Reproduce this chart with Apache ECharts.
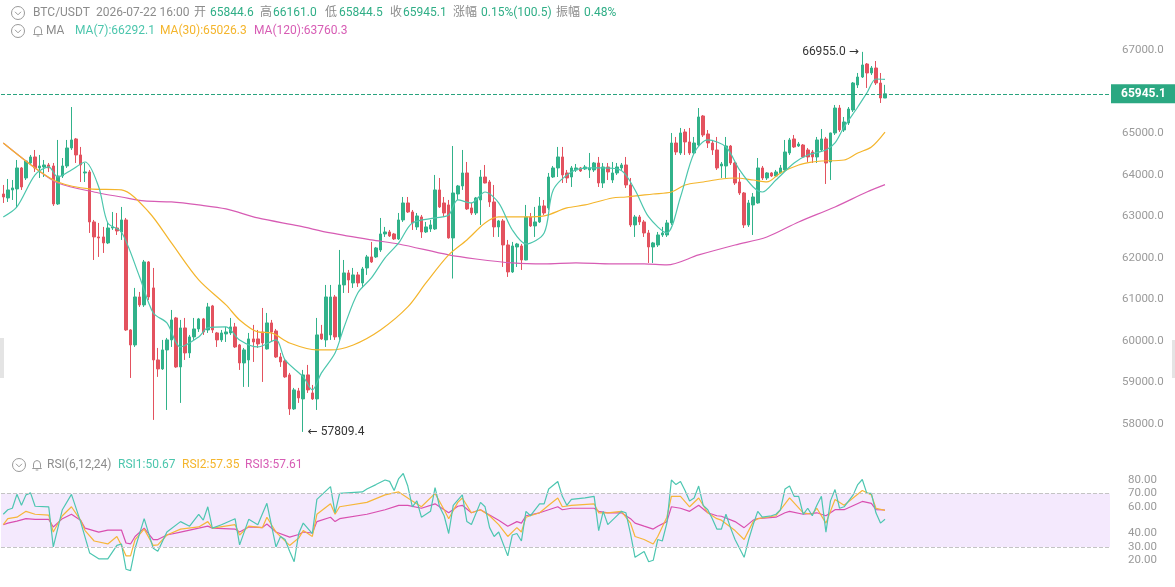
<!DOCTYPE html>
<html>
<head>
<meta charset="utf-8">
<script src="https://cdn.jsdelivr.net/npm/echarts@6/dist/echarts.min.js"></script>
<style>
html,body{margin:0;padding:0;background:#fff;}
#main{width:1175px;height:587px;}
</style>
</head>
<body>
<div id="main"></div>
<script>
// K线 [开, 收, 低, 高]
var kline = [
[63535,63463,63319,63752],[63439,63632,63343,63896],[63632,63680,63391,63872],[63656,64161,63199,64353],
[64161,63704,63632,64185],[63920,64329,63872,64353],[64281,64426,64233,64474],[64426,64161,64065,64594],
[64161,64209,63920,64474],[64185,64233,63944,64353],[64233,64161,64065,64281],[64209,63295,63247,64281],
[63295,63968,63270,64835],[63968,64209,63920,64401],[64209,64642,64161,64835],[64642,64835,64594,65628],
[64859,64474,64281,64883],[64474,64233,63824,64667],[64041,64065,63824,64281],[64065,62862,62597,64113],
[62862,62501,61947,62910],[62501,62477,62020,62838],[62501,62357,62116,62742],[62357,62717,62330,62838],
[62717,62742,62669,63102],[62717,62645,62549,63078],[62621,62910,62429,63223],[62910,60263,60240,62958],
[60263,59902,59108,60280],[59902,61057,59854,61274],[61057,60865,60817,61177],[60865,61899,60817,61947],
[61899,61057,60985,61920],[61274,59541,58098,61755],[59541,59325,59133,59830],[59325,59782,59301,60023],
[59782,60023,58338,60071],[60023,60504,59854,60744],[60552,59373,59350,60576],[59373,60311,58507,60504],
[60311,59710,59541,60552],[59710,60095,59589,60143],[60095,60287,60023,60552],[60287,60528,60215,60552],
[60528,60215,60143,60552],[60263,60817,60191,60913],[60841,60263,60191,60865],[60191,60023,59854,60215],
[60023,60191,59974,60263],[60167,60215,59974,60336],[60191,60336,60143,60552],[60336,59854,59830,60432],
[59902,59469,59301,59926],[59469,59782,58892,59830],[59541,60047,58892,60191],[60047,59974,59493,60384],
[60047,59926,59830,60263],[60215,59950,59012,60792],[59806,60432,59790,60672],[60432,60215,59974,60504],
[60239,59613,59589,60287],[59613,59493,59373,59710],[59517,59133,59110,59565],[59181,58363,58218,59229],
[58363,58820,58338,58868],[58796,58627,58507,58868],[58603,59181,57809.4,59301],[59181,58820,58747,59421],
[58747,58603,58579,58940],[58603,60143,58338,60552],[60167,60047,60023,60384],[60023,61057,59854,61346],
[60143,61057,60023,61346],[61057,60095,60023,61105],[60095,61346,60023,62188],[61346,61635,61153,61947],
[61635,61466,61153,61707],[61394,61587,61274,61755],[61587,61394,61298,61659],[61394,61731,61274,61779],
[61755,62020,61587,62068],[62020,61899,61875,62381],[62020,62236,61996,62260],[62188,62573,62140,62958],
[62573,62621,62501,62742],[62621,62525,62501,62669],[62573,62453,62429,62597],[62453,62910,62429,63078],
[62910,63319,62862,63463],[63319,63102,63078,63463],[63102,62838,62669,63150],[62742,63006,62669,63078],
[62982,62621,62477,63030],[62621,62742,62597,62862],[62693,62790,62621,62910],[62693,63632,62669,63993],
[63632,63223,63199,63920],[63319,63078,62982,63463],[63271,62477,62460,63391],[62477,63559,61500,64690],
[63535,63728,63391,63752],[63728,64041,63632,64594],[64041,63175,63150,64305],[63199,63078,63030,63319],
[63078,63439,63030,63463],[63391,63944,62790,64113],[63944,63800,63790,64233],[63824,63343,63223,63872],
[63343,62742,62501,63752],[62742,62886,62501,62910],[62886,62308,61779,62934],[62308,61659,61539,62429],
[61659,62284,61635,62381],[62260,62332,61779,62357],[62284,61947,61707,62332],[61947,62982,61940,63271],
[62982,62766,62742,63078],[62766,62862,62501,63223],[62862,63247,62838,63463],[63247,63078,63030,63391],
[63199,63944,63150,64041],[63944,64161,63920,64209],[64161,64426,63944,64667],[64426,63993,63800,64667],
[64041,63920,63800,64113],[63944,64161,63704,64209],[64113,64161,64065,64257],[64161,64089,64065,64185],
[64137,64185,64113,64233],[64113,64161,63920,64522],[64113,64281,64065,64305],[64281,63800,63704,64426],
[63800,64185,63680,64281],[64185,64065,63872,64281],[63872,64041,63800,64305],[64041,64185,63993,64281],
[64161,64233,64113,64281],[64233,63752,63680,64426],[63752,62790,62742,63920],[62790,62982,62501,63030],
[62982,62862,62790,63030],[62862,62597,62501,62910],[62597,62260,61875,62669],[62260,62357,61875,62381],
[62308,62549,62260,62621],[62549,62597,62501,62742],[62549,62838,62501,62910],[62838,64762,62790,65003],
[64762,64546,64474,64907],[64522,65003,64474,65124],[65027,64787,64474,65099],[64787,64522,64474,65124],
[64522,64762,64474,64907],[64714,65388,64666,65604],[65412,64955,64907,65436],[64979,64762,64642,65075],
[64762,64594,64474,64835],[64594,64161,64113,64907],[64209,64257,63920,64305],[64209,64690,63920,64907],
[64690,64281,64233,64714],[64281,63800,63752,64305],[63824,63559,63511,64041],[63559,62790,62717,63583],
[62790,63319,62742,63391],[63271,63463,62549,63559],[63319,64161,63300,64401],[64161,63920,63872,64209],
[63920,64041,63872,64060],[64041,63968,63944,64060],[63968,64065,63944,64113],[64041,64161,64030,64233],
[64113,64546,64065,64835],[64522,64835,64474,64883],[64859,64666,64642,64955],[64690,64738,64666,64787],
[64714,64426,64401,64738],[64594,64426,64305,64642],[64546,64426,64281,64594],[64426,64835,64281,64907],
[64594,64859,64546,65099],[64859,64281,63776,64907],[64305,65003,63872,65010],[65003,65604,64955,65677],
[65604,65075,65027,65677],[65075,65268,65027,65388],[65244,65580,65196,65628],[65556,66206,65508,66230],
[66158,66350,66086,66447],[66350,66639,66326,66955],[66663,66447,66086,66687],[66447,66567,66399,66615],
[66567,66206,66158,66735],[66206,65845,65725,66447],[65844.6,65945.1,65844.5,66161.0]
];

// 均线 [K线序号, 值]
var ma7Pts = [[0,62982],[3,63223],[7,63993],[10,64185],[12,63944],[15,64113],[18,64305],[21,63704],[23,62838],
[26,62621],[30,61539],[33,60672],[36,60432],[39,59854],[43,60095],[45,60311],[49,60336],[52,60023],[56,59854],
[60,60023],[62,59541],[66,59133],[68,58820],[70,59229],[73,59710],[75,60336],[78,61153],[81,61514],[84,61996],
[87,62357],[90,62838],[95,62958],[98,63030],[100,63391],[103,63319],[106,63583],[109,63319],[112,62669],
[115,62332],[119,62597],[121,63632],[125,64065],[129,64161],[132,64161],[136,64100],[139,63632],[142,62982],
[146,62597],[149,63463],[152,64522],[155,64835],[159,64666],[162,64113],[165,63704],[167,63583],[170,63872],
[174,64281],[177,64474],[181,64594],[183,64762],[185,65147],[188,65628],[190,65965],[192,66302],[194,66292.1]];
var ma30Pts = [[0,64762],[7,64161],[12,63824],[19,63656],[26,63632],[32,63102],[37,62357],[43,61466],[49,60865],
[52,60504],[56,60215],[59,60191],[63,59950],[69,59782],[72,59782],[77,59902],[83,60263],[89,60817],[93,61394],
[98,62068],[102,62429],[106,62838],[109,62982],[115,62982],[119,63006],[124,63199],[128,63271],[134,63439],
[137,63463],[143,63535],[147,63583],[150,63752],[154,63824],[158,63896],[161,63920],[165,63872],[168,63824],
[171,64041],[175,64233],[178,64305],[180,64329],[185,64353],[188,64522],[191,64666],[194,65026.3]];
var ma120Pts = [[0,64762],[7,64161],[12,63800],[21,63559],[26,63463],[31,63367],[37,63343],[43,63271],[49,63175],
[56,62958],[65,62766],[72,62597],[81,62429],[87,62332],[98,62068],[104,61971],[112,61875],[119,61851],
[126,61875],[134,61851],[141,61851],[146,61827],[153,62068],[161,62308],[168,62501],[175,62862],[183,63223],
[190,63583],[194,63760.3]];

// RSI [K线序号, 值]
var rsi1Pts = [[0,54.4],[1,57.8],[2,58.9],[3,69.3],[4,61.1],[5,68.9],[6,70.4],[7,60.4],[10,60.0],[11,30.0],[13,57.8],
[15,69.3],[17,48.9],[19,25.5],[21,21.1],[23,21.1],[25,31.1],[26,32.2],[27,13.3],[28,12.2],[29,28.9],[31,51.1],
[33,28.9],[34,26.7],[36,41.1],[39,48.9],[41,45.5],[43,54.4],[44,50.0],[45,60.0],[46,44.0],[48,46.6],[51,51.1],
[52,31.5],[54,50.6],[56,46.6],[58,62.6],[60,30.0],[61,37.8],[62,35.5],[63,26.7],[64,18.9],[65,40.0],[66,47.8],
[68,40.0],[69,65.5],[72,75.1],[73,55.5],[74,70.0],[79,71.1],[80,73.3],[82,76.6],[84,80.0],[85,79.0],[86,72.2],
[87,81.1],[88,84.9],[89,75.5],[90,60.0],[91,64.4],[92,52.2],[94,56.6],[95,74.4],[96,60.0],[97,53.3],[98,40.0],
[99,61.1],[101,68.9],[102,48.9],[103,46.7],[105,63.3],[106,60.0],[107,44.4],[108,37.8],[109,41.1],[111,23.3],
[112,38.9],[113,40.0],[114,34.4],[115,56.6],[116,53.3],[118,62.2],[119,62.2],[120,73.3],[122,78.9],[123,67.8],
[124,61.1],[125,65.5],[128,66.6],[130,67.8],[131,42.2],[132,56.6],[133,46.7],[136,56.6],[137,55.5],[138,40.0],
[139,22.2],[141,26.6],[142,18.9],[143,20.0],[144,35.5],[145,34.4],[146,47.8],[147,80.0],[148,76.6],[149,78.9],
[150,72.2],[151,64.4],[152,66.6],[153,75.5],[154,61.1],[155,57.8],[156,51.1],[157,43.3],[158,43.3],[159,54.4],
[160,44.4],[161,35.5],[163,22.2],[164,35.5],[165,46.7],[166,56.6],[167,52.2],[169,53.3],[170,54.4],[171,57.8],
[172,73.3],[173,75.5],[174,67.8],[175,67.8],[176,54.4],[177,58.9],[178,53.3],[179,61.1],[180,67.8],[181,41.1],
[182,64.4],[183,72.9],[184,58.9],[185,60.0],[187,68.9],[188,76.6],[189,80.4],[190,70.0],[191,70.0],[192,55.5],
[193,47.8],[194,50.67]];
var rsi2Pts = [[0,46.6],[1,51.1],[3,52.2],[5,56.6],[7,54.4],[10,53.8],[11,41.1],[13,53.3],[15,60.0],[17,50.0],
[18,42.2],[20,34.4],[23,32.2],[25,37.8],[26,31.1],[27,23.3],[28,23.3],[29,35.5],[31,43.3],[33,31.1],[34,31.5],
[36,38.9],[39,43.3],[43,44.9],[45,48.9],[46,44.0],[51,46.6],[52,38.9],[54,45.5],[57,44.4],[58,52.2],[60,41.1],
[63,31.1],[65,36.6],[66,42.2],[68,37.8],[69,54.4],[72,62.2],[73,54.4],[74,60.0],[80,63.3],[84,68.9],[87,71.1],
[89,66.6],[90,64.4],[92,60.0],[95,70.0],[97,57.8],[98,51.1],[100,63.3],[101,66.6],[103,55.5],[105,57.8],
[107,53.3],[109,46.7],[111,37.8],[113,44.4],[114,41.1],[115,52.2],[118,55.5],[120,61.1],[122,66.6],[123,60.0],
[125,61.1],[130,62.2],[131,55.5],[133,55.5],[136,56.6],[138,47.8],[139,37.8],[141,35.5],[143,32.2],[144,37.8],
[146,52.2],[147,67.8],[149,67.8],[151,60.0],[153,66.6],[155,55.5],[157,51.1],[158,50.0],[161,42.2],[163,35.5],
[165,48.9],[166,51.1],[170,53.3],[172,62.2],[173,66.6],[176,55.5],[178,54.4],[179,58.9],[181,47.8],[183,65.5],
[185,61.1],[189,72.2],[191,68.9],[192,58.9],[194,57.35]];
var rsi3Pts = [[0,46.6],[1,47.8],[3,49.3],[5,51.1],[7,50.6],[10,50.6],[11,44.9],[13,51.1],[15,54.4],[17,50.0],
[18,44.0],[21,41.1],[23,42.6],[26,42.6],[27,32.9],[28,32.2],[29,37.8],[31,44.0],[33,35.5],[34,35.5],[36,38.9],
[39,41.1],[43,44.0],[45,45.5],[46,44.0],[51,43.3],[52,41.1],[54,44.9],[57,44.4],[58,47.1],[60,41.1],[63,37.3],
[65,39.3],[66,41.1],[68,40.4],[69,48.9],[72,52.2],[73,48.9],[74,51.1],[80,54.4],[84,57.8],[87,61.1],[89,61.1],
[92,58.9],[95,62.2],[97,57.8],[98,55.5],[100,60.4],[101,61.1],[103,55.5],[105,57.8],[107,53.8],[109,50.0],
[111,45.5],[113,48.9],[114,47.8],[115,53.3],[118,55.5],[120,57.8],[122,60.0],[123,57.8],[125,58.9],[130,58.9],
[131,56.6],[133,55.5],[136,55.5],[138,51.1],[139,47.8],[141,45.5],[143,43.3],[144,45.5],[146,48.9],[147,60.0],
[149,58.9],[151,56.6],[153,61.1],[155,55.5],[157,53.3],[158,52.9],[161,48.9],[163,44.4],[165,50.0],[166,51.1],
[170,52.2],[172,55.5],[173,56.6],[176,54.4],[178,55.1],[179,55.5],[181,53.3],[183,57.8],[185,57.8],[189,64.0],
[191,62.6],[192,57.8],[194,57.61]];

var rsiTicks = [20, 30, 40, 60, 70, 80];
var lastClose = 65945.1;
var highMark = [189, 66955.0];
var lowMark = [66, 57809.4];

// 右侧留白(未来K线位置)
var slots = [];
for (var i = 0; i < kline.length + 49; i++) slots.push(String(i));

var upColor = '#31b28a', downColor = '#e3525f';
var gray = '#8c8c8c', valGreen = '#2fae86';
var c7 = '#4cc6ad', c30 = '#f4b52c', c120 = '#d75cb4';

function txt(x, y, s, color) {
    return {
        type: 'text', x: x, y: y,
        style: { text: s, fill: color, fontSize: 12, fontFamily: 'Roboto, "Noto Sans CJK SC"', textVerticalAlign: 'middle' }
    };
}
function chevron(cx, cy) {
    return [
        { type: 'circle', shape: { cx: cx, cy: cy, r: 6.5 }, style: { fill: 'none', stroke: '#9a9a9a', lineWidth: 1 } },
        { type: 'polyline', shape: { points: [[cx - 3, cy - 1.2], [cx, cy + 1.8], [cx + 3, cy - 1.2]] }, style: { fill: 'none', stroke: '#9a9a9a', lineWidth: 1 } }
    ];
}
// 铃铛图标
function bell(cx, cy) {
    return [
        { type: 'polyline', shape: { points: [[cx - 4.5, cy + 3.5], [cx - 3.5, cy + 2.5], [cx - 3.5, cy - 1], [cx - 2.5, cy - 3.5], [cx, cy - 4.5], [cx + 2.5, cy - 3.5], [cx + 3.5, cy - 1], [cx + 3.5, cy + 2.5], [cx + 4.5, cy + 3.5], [cx - 4.5, cy + 3.5]] }, style: { fill: 'none', stroke: '#9a9a9a', lineWidth: 1 } },
        { type: 'line', shape: { x1: cx - 1.3, y1: cy + 5, x2: cx + 1.3, y2: cy + 5 }, style: { stroke: '#9a9a9a', lineWidth: 1 } }
    ];
}

var graphics = [].concat(
    chevron(18, 13), chevron(18, 31), chevron(19, 465),
    bell(38, 31), bell(37, 465),
    [txt(33, 13, 'BTC/USDT', gray), txt(96, 13, '2026-07-22 16:00', gray),
    txt(194, 13, '开', gray), txt(210, 13, '65844.6', valGreen),
    txt(260, 13, '高', gray), txt(273, 13, '66161.0', valGreen),
    txt(325, 13, '低', gray), txt(339, 13, '65844.5', valGreen),
    txt(390, 13, '收', gray), txt(403, 13, '65945.1', valGreen),
    txt(453, 13, '涨幅', gray), txt(481, 13, '0.15%(100.5)', valGreen),
    txt(556, 13, '振幅', gray), txt(584, 13, '0.48%', valGreen),
    txt(46, 31, 'MA', gray), txt(75, 31, 'MA(7):66292.1', c7),
    txt(160, 31, 'MA(30):65026.3', c30), txt(254, 31, 'MA(120):63760.3', c120),
    txt(47, 465, 'RSI(6,12,24)', gray), txt(118, 465, 'RSI1:50.67', c7),
    txt(182, 465, 'RSI2:57.35', c30), txt(245, 465, 'RSI3:57.61', c120),
    { type: 'rect', shape: { x: 0, y: 338, width: 4, height: 40 }, style: { fill: '#e4e4e4' } },
    { type: 'rect', shape: { x: 1172, y: 340, width: 3, height: 38 }, style: { fill: '#e4e4e4' } }]
);

var hiddenAxis = { show: true, axisLine: { show: false }, axisTick: { show: false }, axisLabel: { show: false }, splitLine: { show: false } };

var myChart = echarts.init(document.getElementById('main'));
var option = {
    animation: false,
    backgroundColor: '#fff',
    graphic: graphics,
    grid: [
        { left: 1, right: 65, top: 8.44, height: 457.1 },
        { left: 1, right: 65, top: 453.3, height: 150 }
    ],
    xAxis: [
        Object.assign({ type: 'category', gridIndex: 0, data: slots, boundaryGap: true }, hiddenAxis),
        Object.assign({ type: 'category', gridIndex: 1, data: slots, boundaryGap: true }, hiddenAxis)
    ],
    yAxis: [{
        type: 'value', gridIndex: 0, position: 'right', min: 57000, max: 68000, interval: 1000,
        axisLine: { show: false }, axisTick: { show: false }, splitLine: { show: false },
        axisLabel: {
            margin: 12, color: '#9a9a9a', fontSize: 11.5, fontFamily: 'Roboto',
            formatter: function (v) { return (v >= 58000 && v <= 67000) ? v.toFixed(1) : ''; }
        }
    }, {
        type: 'value', gridIndex: 1, position: 'right', min: 0, max: 100, interval: 10,
        axisLine: { show: false }, axisTick: { show: false }, splitLine: { show: false },
        axisLabel: {
            margin: 18, color: '#9a9a9a', fontSize: 11.5, fontFamily: 'Roboto',
            formatter: function (v) { return rsiTicks.indexOf(v) >= 0 ? v.toFixed(2) : ''; }
        }
    }],
    series: [{
        name: 'K', type: 'candlestick', xAxisIndex: 0, yAxisIndex: 0,
        data: kline, barWidth: 3,
        itemStyle: { color: upColor, color0: downColor, borderColor: upColor, borderColor0: downColor, borderWidth: 1 },
        markLine: {
            silent: true, symbol: ['none', 'none'],
            lineStyle: { type: 'dashed', color: '#2aa37e', width: 1 },
            label: {
                show: true, position: 'end', distance: 1, formatter: lastClose.toFixed(1),
                backgroundColor: '#2ba882', color: '#fff', fontSize: 12, fontWeight: 'bold',
                fontFamily: 'Roboto', padding: [4, 11, 3, 10]
            },
            data: [{ yAxis: lastClose }]
        },
        markPoint: {
            symbol: 'circle', symbolSize: 1, itemStyle: { color: 'rgba(0,0,0,0)' },
            label: { show: true, color: '#333', fontSize: 12, fontFamily: 'Roboto, "DejaVu Sans"' },
            data: [
                { coord: highMark, label: { position: 'left', distance: 3, formatter: highMark[1].toFixed(1) + ' →' } },
                { coord: lowMark, label: { position: 'right', distance: 4, formatter: '← ' + lowMark[1].toFixed(1) } }
            ]
        }
    }, {
        name: 'MA120', type: 'line', xAxisIndex: 0, yAxisIndex: 0, data: ma120Pts, symbol: 'none', smooth: 0.3,
        lineStyle: { color: c120, width: 1.2 }
    }, {
        name: 'MA30', type: 'line', xAxisIndex: 0, yAxisIndex: 0, data: ma30Pts, symbol: 'none', smooth: 0.3,
        lineStyle: { color: c30, width: 1.2 }
    }, {
        name: 'MA7', type: 'line', xAxisIndex: 0, yAxisIndex: 0, data: ma7Pts, symbol: 'none', smooth: 0.3,
        lineStyle: { color: c7, width: 1.2 }
    }, {
        name: 'RSI3', type: 'line', xAxisIndex: 1, yAxisIndex: 1, data: rsi3Pts, symbol: 'none',
        lineStyle: { color: '#d94fb0', width: 1.2 },
        markArea: { silent: true, itemStyle: { color: '#f4e9fd' }, data: [[{ yAxis: 30 }, { yAxis: 70 }]] },
        markLine: {
            silent: true, symbol: ['none', 'none'], label: { show: false },
            lineStyle: { type: 'dashed', color: '#c4c4c4', width: 1 },
            data: [{ yAxis: 30 }, { yAxis: 70 }]
        }
    }, {
        name: 'RSI2', type: 'line', xAxisIndex: 1, yAxisIndex: 1, data: rsi2Pts, symbol: 'none',
        lineStyle: { color: '#f6b63a', width: 1.2 }
    }, {
        name: 'RSI1', type: 'line', xAxisIndex: 1, yAxisIndex: 1, data: rsi1Pts, symbol: 'none',
        lineStyle: { color: '#4dc6b1', width: 1.2 }
    }]
};
myChart.setOption(option);
</script>
</body>
</html>
